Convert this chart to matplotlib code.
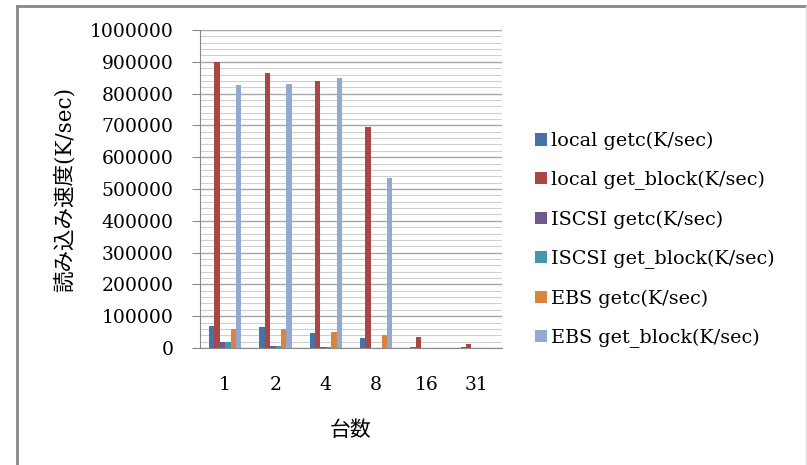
import numpy as np
import matplotlib.pyplot as plt
from matplotlib.lines import Line2D

plt.rcParams['font.family'] = ['DejaVu Serif', 'Noto Sans CJK JP']

# 台数ごとの読み込み速度
categories = ['1', '2', '4', '8', '16', '31']
local_getc = [69000, 65000, 48000, 31000, 4000, 4000]
local_get_block = [898000, 865000, 839000, 695000, 35000, 12000]
iscsi_getc = [18000, 5000, 3000, 0, 0, 0]
iscsi_get_block = [18000, 5000, 3000, 0, 0, 0]
ebs_getc = [61000, 61000, 51000, 42000, 0, 0]
ebs_get_block = [828000, 831000, 848000, 535000, 0, 0]

series = [
    ('local getc(K/sec)', local_getc, '#4572A7'),
    ('local get_block(K/sec)', local_get_block, '#AA4643'),
    ('ISCSI getc(K/sec)', iscsi_getc, '#71588F'),
    ('ISCSI get_block(K/sec)', iscsi_get_block, '#4198AF'),
    ('EBS getc(K/sec)', ebs_getc, '#DB843D'),
    ('EBS get_block(K/sec)', ebs_get_block, '#93A9CF'),
]

fig = plt.figure(figsize=(8.07, 4.65), dpi=100)
ax = fig.add_axes([200 / 807, 1 - 348 / 465, 302 / 807, 318 / 465])

x = np.arange(len(categories))
w = 0.107
for i, (name, vals, color) in enumerate(series):
    ax.bar(x + (i - 2.5) * w, vals, width=w, color=color, label=name, zorder=3)

ax.set_xlim(-0.5, len(categories) - 0.5)
ax.set_ylim(0, 1000000)
ax.set_yticks(np.arange(0, 1000001, 100000))
ax.set_yticks(np.arange(0, 1000001, 20000), minor=True)
ax.set_yticklabels([str(v) for v in range(0, 1000001, 100000)], fontsize=13.5)
ax.set_xticks(x)
ax.set_xticklabels(categories, fontsize=13.5)
ax.tick_params(axis='x', length=0, pad=20)
ax.tick_params(axis='y', which='major', length=6, color='#888888', pad=13)
ax.tick_params(axis='y', which='minor', length=0)

ax.grid(axis='y', which='major', color='#A6A6A6', linewidth=1.0, zorder=0)
ax.grid(axis='y', which='minor', color='#D0D0D0', linewidth=0.8, zorder=0)
for side in ['top', 'right']:
    ax.spines[side].set_visible(False)
ax.spines['left'].set_color('#888888')
ax.spines['bottom'].set_color('#888888')

ax.set_xlabel('台数', fontsize=15, labelpad=19)
ax.set_ylabel('読み込み速度(K/sec)', fontsize=15.5, labelpad=10)

ax.legend(loc='center left', bbox_to_anchor=(335 / 302, 0.34),
          frameon=False, fontsize=13.8, handlelength=0.6, handleheight=0.6,
          handletextpad=0.25, labelspacing=1.08, borderaxespad=0,
          borderpad=0)

# 外枠
fig.add_artist(Line2D([17 / 807, 17 / 807], [0, 1 - 6 / 465],
                      transform=fig.transFigure, color='#888888', linewidth=2))
fig.add_artist(Line2D([17 / 807, 806 / 807], [1 - 6 / 465, 1 - 6 / 465],
                      transform=fig.transFigure, color='#888888', linewidth=2))
fig.add_artist(Line2D([806 / 807, 806 / 807], [0, 1 - 6 / 465],
                      transform=fig.transFigure, color='#DDDDDD', linewidth=1))

fig.savefig('out.png', dpi=100)
